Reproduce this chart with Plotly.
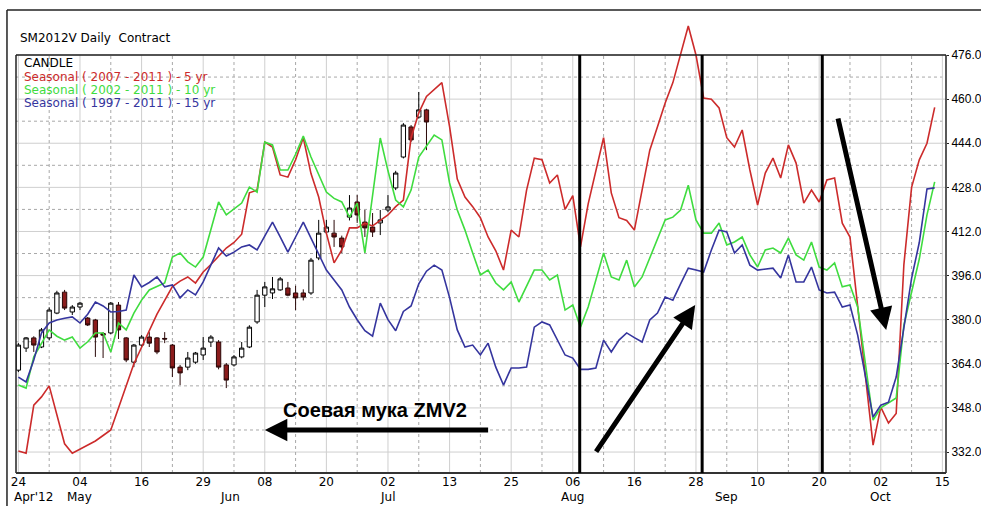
import plotly.graph_objects as go

# ---------------- data ----------------
days = list(range(120))

red_5yr = [332.4, 331.6, 349.0, 352.0, 356.0, 346.0, 335.0, 331.6, 333.0, 334.5,
           336.0, 338.0, 340.0, 348.0, 356.0, 364.0, 370.0, 376.0, 382.0, 387.0,
           392.0, 394.0, 395.5, 393.3, 397.3, 400.0, 403.0, 406.0, 408.0, 411.0,
           426.0, 427.0, 444.4, 442.6, 432.5, 431.7, 438.0, 446.0, 433.0, 424.5,
           411.4, 400.6, 405.3, 413.3, 413.3, 415.0, 414.0, 416.0, 418.0, 421.0,
           423.4, 446.0, 455.0, 461.0, 463.5, 466.0, 450.0, 431.0, 424.5, 421.0,
           417.0, 410.0, 405.0, 398.0, 412.5, 410.0, 427.0, 438.6, 438.0, 429.6,
           432.5, 420.0, 425.0, 406.4, 422.0, 434.0, 446.0, 426.0, 417.0, 416.0,
           412.5, 427.0, 441.5, 450.0, 458.6, 466.0, 476.0, 486.5, 476.0, 460.4,
           460.0, 456.8, 446.0, 442.6, 448.8, 434.3, 421.6, 433.2, 438.6, 431.4,
           443.4, 436.8, 422.3, 427.0, 422.7, 430.7, 431.4, 415.0, 410.0, 385.0,
           360.0, 334.5, 348.3, 342.5, 346.0, 400.0, 428.0, 438.0, 444.0, 457.0]

green_10yr = [356.3, 355.2, 366.5, 371.5, 376.3, 374.0, 372.6, 373.7, 369.7, 372.0,
              375.2, 375.2, 368.3, 378.8, 376.3, 382.4, 387.1, 390.8, 392.0, 393.3,
              402.7, 404.2, 401.0, 399.1, 402.7, 413.0, 422.7, 418.0, 420.0, 422.3,
              428.1, 426.3, 444.4, 443.4, 434.3, 434.3, 440.0, 446.6, 439.0, 432.5,
              426.3, 424.0, 422.7, 417.2, 422.3, 404.2, 425.0, 445.9, 434.0, 423.4,
              420.9, 427.0, 439.0, 443.0, 447.0, 445.2, 429.6, 419.8, 412.5, 404.2,
              396.2, 398.0, 393.3, 390.8, 393.7, 386.4, 392.0, 398.0, 398.0, 394.4,
              396.2, 383.5, 385.3, 377.3, 384.6, 394.4, 404.2, 395.5, 394.4, 401.6,
              391.9, 395.5, 402.4, 409.6, 416.2, 417.2, 419.8, 428.8, 416.2, 411.4,
              411.4, 415.1, 407.1, 408.2, 410.0, 403.5, 399.1, 405.3, 406.0, 404.2,
              409.6, 403.5, 401.6, 408.2, 399.1, 398.0, 400.6, 391.9, 392.6, 384.6,
              363.5, 343.6, 348.0, 349.8, 351.6, 378.0, 390.0, 402.0, 418.0, 430.0]

blue_15yr = [359.2, 357.4, 365.4, 375.2, 378.8, 379.9, 380.5, 381.0, 378.8, 382.0,
             386.4, 385.0, 382.8, 383.0, 383.5, 396.2, 391.9, 393.5, 395.5, 391.9,
             392.6, 387.9, 390.8, 389.0, 393.7, 400.0, 406.0, 403.1, 404.5, 406.4,
             407.1, 405.3, 410.3, 415.4, 410.0, 404.5, 410.0, 415.4, 409.6, 403.5,
             398.0, 394.4, 390.8, 384.6, 380.0, 376.0, 374.0, 386.0, 380.0, 376.0,
             383.0, 385.0, 393.0, 397.6, 399.8, 398.0, 388.0, 376.3, 370.1, 370.8,
             367.2, 371.5, 362.8, 356.3, 362.5, 362.5, 362.8, 377.3, 379.2, 378.1,
             372.6, 367.2, 366.1, 362.0, 362.0, 362.5, 372.6, 368.3, 372.6, 375.2,
             373.5, 371.9, 379.9, 382.4, 388.2, 387.1, 393.0, 398.7, 398.0, 397.3,
             405.3, 412.5, 411.8, 404.2, 407.1, 399.8, 398.0, 398.3, 398.7, 395.1,
             403.5, 393.7, 393.7, 399.1, 390.8, 389.7, 390.0, 384.6, 385.3, 374.4,
             360.0, 344.7, 349.0, 350.1, 359.2, 378.0, 395.0, 408.0, 427.4, 427.8]

candle_days = list(range(54))
c_open = [361.7, 369.7, 373.4, 370.1, 373.4, 382.4, 390.0, 382.8, 384.6, 380.6,
          379.9, 375.0, 375.2, 385.3, 373.4, 364.6, 370.8, 373.7, 373.4, 373.2,
          370.8, 362.8, 362.8, 364.6, 367.2, 371.9, 371.9, 363.6, 363.6, 366.5,
          370.1, 379.2, 388.9, 389.7, 390.8, 391.5, 389.7, 389.7, 389.7, 402.4,
          411.8, 411.4, 409.6, 417.2, 422.7, 415.4, 413.6, 415.1, 419.8, 427.8,
          439.0, 449.9, 453.5, 456.1]
c_high = [371.5, 373.7, 374.0, 377.0, 384.5, 390.5, 390.8, 385.3, 386.4, 381.0,
          380.3, 375.5, 386.4, 386.4, 373.7, 371.2, 374.4, 375.5, 373.7, 375.5,
          371.2, 363.6, 368.3, 368.3, 373.7, 374.4, 372.6, 364.3, 367.2, 371.9,
          378.0, 390.8, 393.7, 395.5, 395.5, 393.7, 392.3, 391.0, 402.4, 416.2,
          416.2, 416.2, 410.5, 425.2, 425.2, 419.8, 418.7, 419.8, 425.2, 434.0,
          451.3, 450.6, 462.6, 456.5]
c_low = [361.0, 368.3, 368.3, 369.7, 372.6, 382.0, 383.5, 381.7, 383.5, 377.7,
         366.5, 366.1, 374.8, 373.0, 364.6, 362.8, 370.0, 370.1, 367.5, 371.5,
         359.2, 356.3, 361.7, 364.0, 365.4, 370.1, 362.0, 355.2, 363.0, 366.0,
         369.7, 378.5, 384.6, 387.5, 390.5, 388.5, 383.5, 387.0, 389.0, 401.6,
         411.0, 406.4, 404.2, 416.0, 415.1, 410.0, 410.0, 410.7, 419.0, 427.0,
         438.5, 444.5, 453.0, 441.5]
c_close = [370.8, 373.4, 370.8, 376.3, 383.5, 389.7, 384.2, 384.6, 386.0, 378.1,
           373.7, 374.4, 386.0, 376.3, 365.4, 370.8, 373.7, 371.5, 368.3, 373.0,
           362.5, 360.7, 366.1, 367.9, 369.7, 373.7, 362.8, 358.1, 366.5, 369.7,
           377.3, 388.9, 391.9, 391.2, 394.8, 388.9, 387.9, 388.2, 401.6, 411.4,
           413.6, 410.0, 406.4, 420.5, 418.0, 413.3, 411.8, 416.2, 420.9, 433.2,
           450.6, 445.2, 456.1, 451.7]

x_tick_vals = list(range(0, 121, 8))
x_tick_text = ["24", "04", "16", "29", "08", "20", "02", "13", "25", "06",
               "16", "28", "10", "20", "02", "15"]
month_text = ["Apr'12", "May", "Jun", "Jul", "Aug", "Sep", "Oct"]
month_pos = [1.9, 8, 27.5, 48, 72, 92, 112]
y_tick_vals = list(range(332, 477, 16))
y_minor_vals = list(range(340, 469, 16))
x_minor_vals = list(range(4, 120, 8))
marker_days = [72.9, 88.8, 104.4]

legend_text = ["CANDLE", "Seasonal ( 2007 - 2011 ) - 5 yr",
               "Seasonal ( 2002 - 2011 ) - 10 yr", "Seasonal ( 1997 - 2011 ) - 15 yr"]
chart_title = "SM2012V Daily  Contract"
note_text = "Соевая мука ZMV2"

# arrows: (tail_x, tail_y, head_x, head_y) in data units
arrows = [(74.9, 331.6, 87.9, 385.3),
          (106.4, 453.5, 112.7, 376.3),
          (61.2, 340.0, 32.0, 340.0)]
note_pos = (46.3, 347.2)

# ---------------- style ----------------
RED = "#cc2b2b"
GREEN = "#3fdc3f"
BLUE = "#35359e"
Y_MIN, Y_TOP, Y_MAX = 324.4, 476, 490.15
X_MIN, X_MAX = -0.31, 120.47
FONT = "DejaVu Sans, Arial, sans-serif"
NARROW = "Liberation Sans, Arial, sans-serif"

fig = go.Figure()

fig.add_trace(go.Candlestick(
    x=candle_days, open=c_open, high=c_high, low=c_low, close=c_close,
    increasing=dict(fillcolor="white", line=dict(color="black", width=1)),
    decreasing=dict(fillcolor="#8b1c1c", line=dict(color="#2a0808", width=1)),
    whiskerwidth=0, showlegend=False, hoverinfo="skip"))

for vals, col in [(red_5yr, RED), (green_10yr, GREEN), (blue_15yr, BLUE)]:
    fig.add_trace(go.Scatter(x=days, y=vals, mode="lines",
                             line=dict(color=col, width=1.6),
                             showlegend=False, hoverinfo="skip"))

shapes = []
# grid
for v in y_tick_vals:
    shapes.append(dict(type="line", xref="paper", yref="y", x0=0, x1=1, y0=v, y1=v,
                       line=dict(color="#cfcfcf", width=1), layer="below"))
for v in y_minor_vals:
    shapes.append(dict(type="line", xref="paper", yref="y", x0=0, x1=1, y0=v, y1=v,
                       line=dict(color="#a8a8a8", width=1, dash="dot"), layer="below"))
for d in x_tick_vals:
    shapes.append(dict(type="line", xref="x", yref="y", x0=d, x1=d, y0=Y_MIN, y1=Y_TOP,
                       line=dict(color="#cfcfcf", width=1), layer="below"))
for d in x_minor_vals:
    shapes.append(dict(type="line", xref="x", yref="y", x0=d, x1=d, y0=Y_MIN, y1=Y_TOP,
                       line=dict(color="#a8a8a8", width=1, dash="dot"), layer="below"))
# frame
shapes.append(dict(type="line", xref="paper", yref="y", x0=0, x1=1, y0=Y_TOP, y1=Y_TOP,
                   line=dict(color="#222", width=1.5)))
shapes.append(dict(type="line", xref="paper", yref="y", x0=0, x1=0, y0=Y_MIN, y1=Y_TOP,
                   line=dict(color="#222", width=1.5)))
shapes.append(dict(type="line", xref="paper", yref="y", x0=1, x1=1, y0=Y_MIN, y1=Y_TOP,
                   line=dict(color="#222", width=1.5)))
shapes.append(dict(type="line", xref="paper", yref="paper", x0=0, x1=1, y0=0, y1=0,
                   line=dict(color="#333", width=2)))
# outer frame (top and left)
shapes.append(dict(type="line", xref="paper", yref="paper", x0=-0.0097, x1=1.04,
                   y0=1.013, y1=1.013, line=dict(color="#222", width=1.5)))
shapes.append(dict(type="line", xref="paper", yref="paper", x0=-0.0097, x1=-0.0097,
                   y0=-0.08, y1=1.013, line=dict(color="#222", width=1.5)))
# black markers
for d in marker_days:
    shapes.append(dict(type="line", xref="x", yref="y", x0=d, x1=d, y0=Y_MIN, y1=Y_TOP,
                       line=dict(color="black", width=3)))

annotations = []
annotations.append(dict(text=chart_title, xref="paper", yref="paper", x=0.002, y=0.952,
                        xanchor="left", yanchor="middle", showarrow=False,
                        font=dict(family=FONT, size=12, color="black")))
leg_cols = ["black", RED, GREEN, BLUE]
leg_y = [0.897, 0.867, 0.838, 0.810]
for t, c, yy in zip(legend_text, leg_cols, leg_y):
    annotations.append(dict(text=t, xref="paper", yref="paper", x=0.0065, y=yy,
                            xanchor="left", yanchor="middle", showarrow=False,
                            font=dict(family=FONT, size=12, color=c)))
for t, p in zip(month_text, month_pos):
    annotations.append(dict(text=t, xref="x", yref="paper", x=p, y=-0.0525,
                            xanchor="center", yanchor="middle", showarrow=False,
                            font=dict(family=FONT, size=12, color="black")))
for tx, ty, hx, hy in arrows:
    annotations.append(dict(text="", x=hx, y=hy, ax=tx, ay=ty, xref="x", yref="y",
                            axref="x", ayref="y", showarrow=True, arrowhead=2,
                            arrowsize=0.9, arrowwidth=5, arrowcolor="black"))
annotations.append(dict(text="<b>" + note_text + "</b>", x=note_pos[0], y=note_pos[1],
                        xref="x", yref="y", showarrow=False,
                        font=dict(family=NARROW, size=20, color="black")))

fig.update_layout(
    width=981, height=506,
    margin=dict(l=16, r=35, t=16, b=33, autoexpand=False),
    paper_bgcolor="white", plot_bgcolor="white", boxgap=0.2,
    shapes=shapes, annotations=annotations, showlegend=False,
    xaxis=dict(range=[X_MIN, X_MAX], tickvals=x_tick_vals, ticktext=x_tick_text,
               showgrid=False, zeroline=False, showline=False, ticks="",
               automargin=False,
               tickfont=dict(family=FONT, size=12, color="black"),
               rangeslider=dict(visible=False)),
    yaxis=dict(range=[Y_MIN, Y_MAX], side="right", tickvals=y_tick_vals,
               tickformat=".1f", showgrid=False, zeroline=False, showline=False,
               ticks="outside", ticklen=2, tickcolor="#222", automargin=False,
               ticklabeloverflow="allow",
               tickfont=dict(family=NARROW, size=12, color="black")),
)

# remove the default page margin so the 981x506 figure fills the window exactly
fig.write_html("out.html",
               config={"displayModeBar": False, "staticPlot": True},
               post_script="document.body.style.margin='0';"
                           "document.body.style.overflow='hidden';")
